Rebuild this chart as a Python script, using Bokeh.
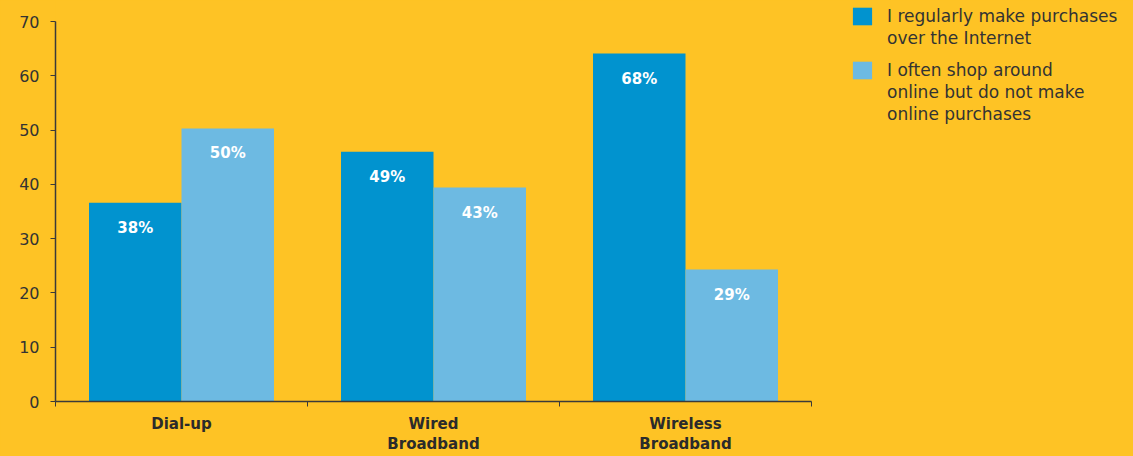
from bokeh.plotting import figure
from bokeh.models import ColumnDataSource, Range1d, FixedTicker, Legend, LegendItem
from bokeh.transform import dodge
from bokeh.core.properties import value
from bokeh.embed import file_html
from bokeh.resources import INLINE

# ---- data ----
categories = ["Dial-up", "Wired\nBroadband", "Wireless\nBroadband"]
purchasers = [36.6, 46.0, 64.1]            # bar heights (dark blue)
shoppers = [50.3, 39.4, 24.3]              # bar heights (light blue)
purchaser_labels = ["38%", "49%", "68%"]
shopper_labels = ["50%", "43%", "29%"]
series_a_lines = ["I regularly make purchases", "over the Internet"]
series_b_lines = ["I often shop around", "online but do not make", "online purchases"]
y_ticks = [0, 10, 20, 30, 40, 50, 60, 70]
Y_MAX = 70

BG = "#FEC325"
DARK = "#0193CF"
LIGHT = "#6DBAE2"
AXIS = "#3a3a3a"
FONT = "DejaVu Sans"

# layout (pixels)
FIG_W, FIG_H = 1133, 456
AX_LEFT, AX_RIGHT, AX_TOP, AX_BOTTOM = 55, 811, 21, 401

n = len(categories)
centers = [i + 0.5 for i in range(n)]
src = ColumnDataSource(dict(x=centers, a=purchasers, b=shoppers,
                            la=purchaser_labels, lb=shopper_labels))

# frame spans the whole figure to the right and top, so the legend is not clipped;
# axes are limited with bounds
x_end = n * (FIG_W - AX_LEFT) / (AX_RIGHT - AX_LEFT)
y_end = Y_MAX * AX_BOTTOM / (AX_BOTTOM - AX_TOP)

p = figure(width=FIG_W, height=FIG_H, output_backend="svg", toolbar_location=None,
           x_range=Range1d(0, x_end), y_range=Range1d(0, y_end),
           min_border_left=AX_LEFT, min_border_right=0, min_border_top=0,
           min_border_bottom=FIG_H - AX_BOTTOM)
p.background_fill_color = BG
p.border_fill_color = BG
p.outline_line_color = None
p.xgrid.visible = False
p.ygrid.visible = False

W = 0.367
ra = p.vbar(x=dodge("x", -W / 2, range=p.x_range), top="a", width=W, bottom=0,
            source=src, fill_color=DARK, line_color=None)
rb = p.vbar(x=dodge("x", W / 2, range=p.x_range), top="b", width=W, bottom=0,
            source=src, fill_color=LIGHT, line_color=None)

for col, lab, off in (("a", "la", -W / 2), ("b", "lb", W / 2)):
    p.text(x=dodge("x", off, range=p.x_range), y=col, text=lab, source=src,
           text_color="white", text_font=value(FONT), text_font_style="bold",
           text_font_size="15px", text_align="center", text_baseline="middle",
           y_offset=25)

# x axis
xa = p.xaxis[0]
xa.bounds = (0, n)
xa.ticker = FixedTicker(ticks=centers, minor_ticks=list(range(n + 1)))
xa.major_label_overrides = {c: lab for c, lab in zip(centers, categories)}
xa.major_tick_out = 0
xa.major_tick_in = 0
xa.minor_tick_out = 5
xa.minor_tick_in = 0
xa.minor_tick_line_color = AXIS
xa.axis_line_color = AXIS
xa.axis_line_width = 1.5
xa.major_label_text_font = FONT
xa.major_label_text_font_style = "bold"
xa.major_label_text_font_size = "15px"
xa.major_label_text_color = "#2b2b2b"
xa.major_label_standoff = 8
xa.major_label_text_line_height = 1.15

# y axis
ya = p.yaxis[0]
ya.bounds = (0, Y_MAX)
ya.ticker = FixedTicker(ticks=y_ticks)
ya.major_tick_out = 5
ya.major_tick_in = 0
ya.minor_tick_out = 0
ya.minor_tick_in = 0
ya.major_tick_line_color = AXIS
ya.axis_line_color = AXIS
ya.axis_line_width = 1.5
ya.major_label_text_font = FONT
ya.major_label_text_font_size = "16px"
ya.major_label_text_color = "#333333"
ya.major_label_standoff = 11


def make_legend(lines, renderer, first_center_px):
    items = [LegendItem(label=lines[0], renderers=[renderer])]
    items += [LegendItem(label=t, renderers=[]) for t in lines[1:]]
    gw, gh = 24, 22
    height = len(lines) * gh
    top = first_center_px - gh / 2
    lg = Legend(items=items, location=(795, AX_BOTTOM - (top + height)))
    lg.background_fill_alpha = 0
    lg.border_line_color = None
    lg.padding = 0
    lg.margin = 0
    lg.glyph_width = gw
    lg.glyph_height = gh
    lg.label_height = gh
    lg.label_standoff = 13
    lg.spacing = 0
    lg.label_text_font = FONT
    lg.label_text_font_size = "17px"
    lg.label_text_color = "#333333"
    lg.label_text_baseline = "middle"
    return lg


p.add_layout(make_legend(series_a_lines, ra, 16))
p.add_layout(make_legend(series_b_lines, rb, 70))

html = file_html(p, INLINE)
html = html.replace("<head>", "<head><style>html,body{background:%s;}</style>" % BG, 1)
open("out.html", "w").write(html)
